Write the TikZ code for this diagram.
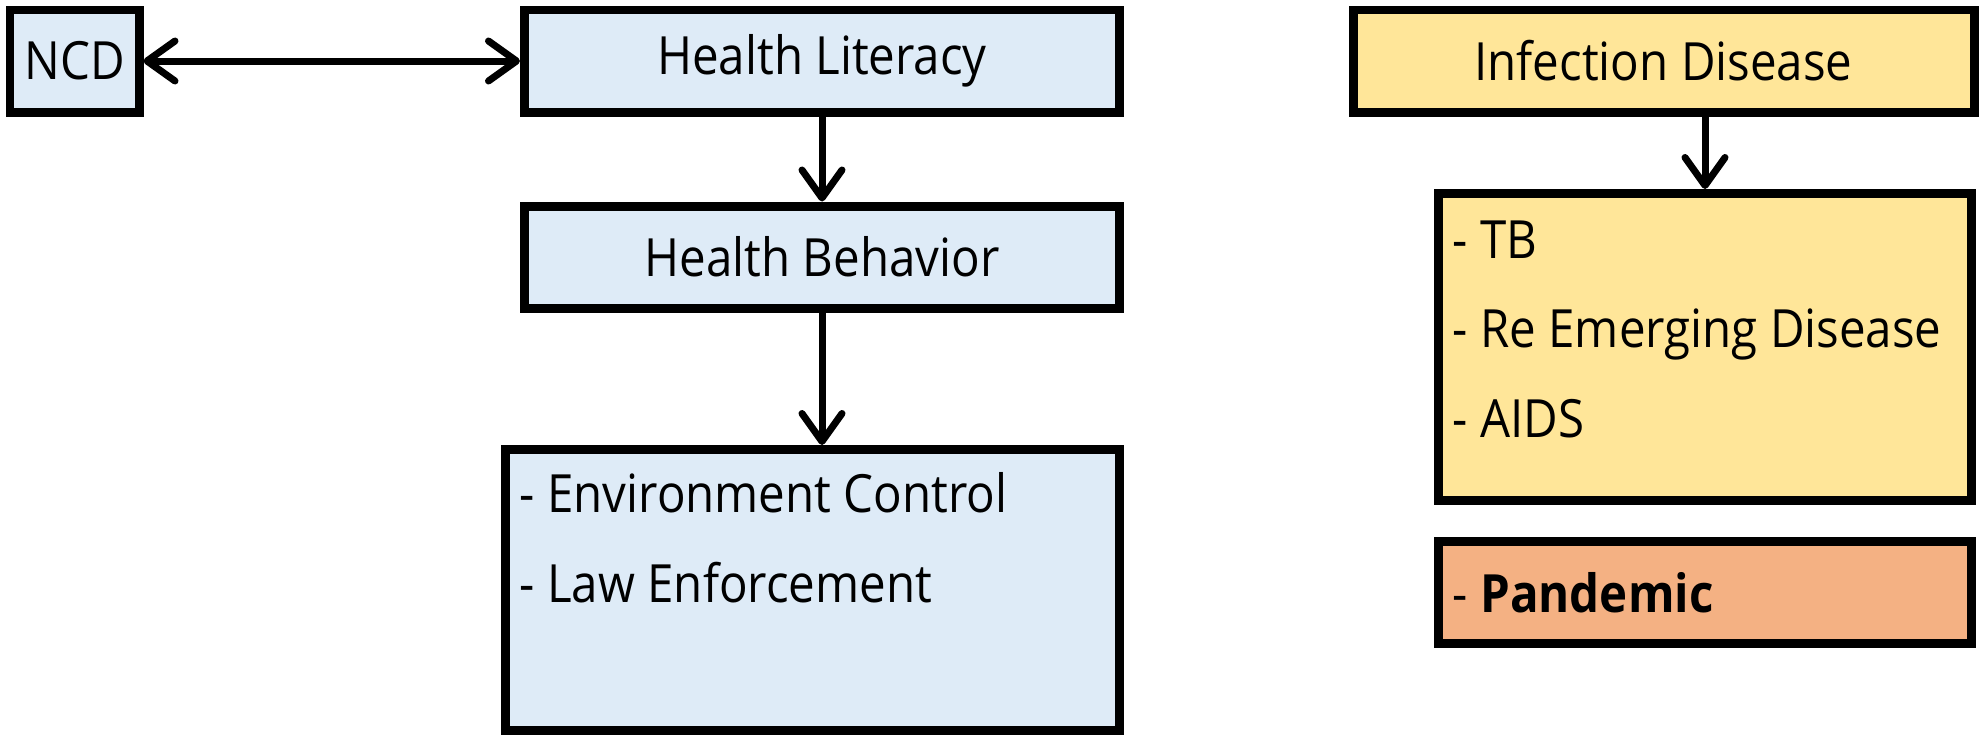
\documentclass[tikz,border=0pt]{standalone}
\usepackage{fontspec}
\setmainfont{Open Sans}[FakeStretch=0.9]
\usetikzlibrary{arrows.meta}
\definecolor{boxblue}{HTML}{DEEBF7}
\definecolor{boxyellow}{HTML}{FFE699}
\definecolor{boxorange}{HTML}{F4B183}
\begin{document}
\begin{tikzpicture}
    % Define styles
    \tikzset{
        topicbox/.style={draw, line width=0.09cm, inner sep=0pt, minimum height=1.02cm, font=\fontsize{15}{25.5}\selectfont},
        bluebox/.style={topicbox, fill=boxblue},
        yellowbox/.style={topicbox, fill=boxyellow},
        orangebox/.style={topicbox, fill=boxorange},
        listtext/.style={inner sep=0pt, align=left, anchor=north west, font=\fontsize{15}{25.5}\selectfont},
        thickarrow/.style={-{Straight Barb[length=2.8mm, width=4mm, round]}, line width=0.07cm},
        botharrow/.style={{Straight Barb[length=2.8mm, width=4mm, round]}-{Straight Barb[length=2.8mm, width=4mm, round]}, line width=0.07cm}
    }
    \useasboundingbox (0,0) rectangle (19.8,-7.39);

    % Left column: NCD
    \node[bluebox, minimum width=1.29cm] (ncd) at (0.745,-0.61) {NCD};
    \node[bluebox, minimum width=5.95cm] (literacy) at (8.22,-0.61) {Health Literacy};
    \node[bluebox, minimum width=5.95cm] (behavior) at (8.22,-2.57) {Health Behavior};
    \node[bluebox, minimum width=6.14cm, minimum height=2.81cm] (control) at (8.125,-5.90) {};
    \node[listtext] (controltext) at ([shift={(0.18,-0.27)}]control.north west)
        {- Environment Control\\- Law Enforcement};

    % Arrows, left column
    \draw[botharrow] (ncd) -- (literacy);
    \draw[thickarrow] (literacy) -- (behavior);
    \draw[thickarrow] (behavior.south) -- (behavior.south |- control.north);

    % Right column: infection disease
    \node[yellowbox, minimum width=6.21cm] (infection) at (16.635,-0.61) {Infection Disease};
    \node[yellowbox, minimum width=5.33cm, minimum height=3.07cm] (diseases) at (17.05,-3.47) {};
    \node[listtext] (diseasetext) at ([shift={(0.18,-0.31)}]diseases.north west)
        {- TB\\- Re Emerging Disease\\- AIDS};
    \node[orangebox, minimum width=5.33cm] (pandemic) at (17.05,-5.925) {};
    \node[listtext, anchor=west] (pandemictext) at ([xshift=0.18cm]pandemic.west) {- \textbf{Pandemic}};

    % Arrow, right column
    \draw[thickarrow] (diseases.north |- infection.south) -- (diseases.north);

\end{tikzpicture}
\end{document}
